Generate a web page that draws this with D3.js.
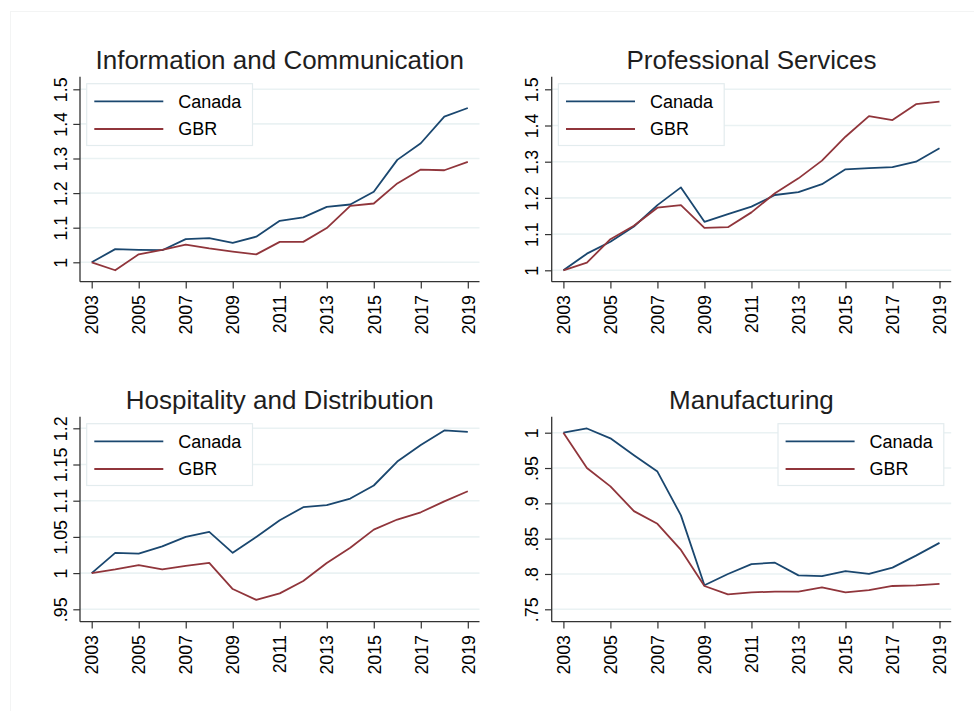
<!DOCTYPE html>
<html>
<head>
<meta charset="utf-8">
<script src="https://cdn.jsdelivr.net/npm/d3@7"></script>
<style>
body{margin:0;background:#fff}
text{font-family:"Liberation Sans",Arial,sans-serif;fill:#000}
.title{font-size:26px;fill:#1e1e1e}
.tick text{font-size:17.8px}
.legendText{font-size:18px}
</style>
</head>
<body>
<div id="chart"></div>
<script>
//the data of the four panels
let years=[2003,2004,2005,2006,2007,2008,2009,2010,2011,2012,2013,2014,2015,2016,2017,2018,2019]
let seriesNames=["Canada","GBR"]
let panelTitles=["Information and Communication","Professional Services","Hospitality and Distribution","Manufacturing"]

let infoCanada=[1.0,1.038,1.036,1.035,1.067,1.070,1.056,1.074,1.120,1.130,1.160,1.167,1.204,1.296,1.344,1.421,1.446]
let infoGBR=[1.0,0.977,1.023,1.036,1.051,1.040,1.031,1.023,1.059,1.059,1.099,1.163,1.170,1.228,1.268,1.266,1.290]

let profCanada=[1.0,1.046,1.079,1.121,1.180,1.229,1.134,1.155,1.176,1.208,1.216,1.238,1.279,1.282,1.285,1.300,1.337]
let profGBR=[1.0,1.021,1.086,1.123,1.173,1.180,1.117,1.119,1.160,1.213,1.254,1.303,1.369,1.426,1.415,1.459,1.466]

let hospCanada=[1.0,1.028,1.027,1.037,1.050,1.057,1.028,1.050,1.073,1.091,1.094,1.103,1.121,1.154,1.177,1.197,1.195]
let hospGBR=[1.0,1.005,1.011,1.005,1.010,1.014,0.978,0.963,0.972,0.989,1.014,1.035,1.060,1.074,1.084,1.099,1.113]

let manuCanada=[1.0,1.006,0.992,0.968,0.945,0.883,0.784,0.800,0.814,0.816,0.798,0.797,0.804,0.800,0.809,0.826,0.844]
let manuGBR=[1.0,0.950,0.924,0.889,0.871,0.834,0.783,0.771,0.774,0.775,0.775,0.781,0.774,0.777,0.783,0.784,0.786]

let xTicks=[2003,2005,2007,2009,2011,2013,2015,2017,2019]
let infoTicks=[1,1.1,1.2,1.3,1.4,1.5]
let profTicks=[1,1.1,1.2,1.3,1.4,1.5]
let hospTicks=[0.95,1,1.05,1.1,1.15,1.2]
let manuTicks=[0.75,0.8,0.85,0.9,0.95,1]

let colors={"Canada":"#1a476f","GBR":"#90353b"}

//layout of every panel (frame of the plot region, and the pixel range of the y scale)
let panels=[
    {title:panelTitles[0],series:[infoCanada,infoGBR],ticks:infoTicks,domain:[1,1.5],left:80,top:76.7,yRange:[262.3,89.3],legend:"left"},
    {title:panelTitles[1],series:[profCanada,profGBR],ticks:profTicks,domain:[1,1.5],left:551.7,top:76.7,yRange:[270.3,89.3],legend:"left"},
    {title:panelTitles[2],series:[hospCanada,hospGBR],ticks:hospTicks,domain:[0.95,1.2],left:80,top:416.7,yRange:[609.3,428.3],legend:"left"},
    {title:panelTitles[3],series:[manuCanada,manuGBR],ticks:manuTicks,domain:[0.75,1],left:551.7,top:416.7,yRange:[609.3,432.7],legend:"right"}
]
let frameWidth=399.5
let frameHeight=205
let tickSize=6.7

let width=974
let height=711
let svg=d3.select("#chart").append("svg").attr("width",width).attr("height",height)

//faint outer frame of the graph (cut by the right and bottom edges)
svg.append("rect").attr("x",10.5).attr("y",11.5).attr("width",width).attr("height",height).attr("fill","none").attr("stroke","#f3f4f4")

//stata style labels: ".95" instead of "0.95"
let yFormat=v=>String(+v.toFixed(2)).replace(/^0\./,".")

function drawPanel(p){
    let g=svg.append("g")
    let right=p.left+frameWidth
    let bottom=p.top+frameHeight

    let xScale=d3.scaleLinear().domain([2003,2019]).range([p.left+11.7,right-11.7])
    let yScale=d3.scaleLinear().domain(p.domain).range(p.yRange)

    //we add the gridlines
    g.selectAll(".grid").data(p.ticks).enter().append("line").attr("class","grid")
        .attr("x1",p.left).attr("x2",right).attr("y1",d=>yScale(d)).attr("y2",d=>yScale(d))
        .attr("stroke","#eaf2f3").attr("stroke-width",1.6)

    //we create the axis
    let axisY=d3.axisLeft(yScale).tickValues(p.ticks).tickSize(tickSize).tickSizeOuter(0).tickFormat(yFormat)
    let axisX=d3.axisBottom(xScale).tickValues(xTicks).tickSize(tickSize).tickSizeOuter(0).tickFormat(d3.format("d"))

    let gy=g.append("g").attr("transform","translate("+p.left+",0)").call(axisY)
    gy.select(".domain").remove()
    gy.selectAll(".tick line").attr("stroke","#333").attr("stroke-width",1.2)
    gy.selectAll(".tick text").attr("transform","rotate(-90)").attr("x",0).attr("y",-13.3).attr("dy",0).attr("text-anchor","middle").attr("fill","#000")

    let gx=g.append("g").attr("transform","translate(0,"+bottom+")").call(axisX)
    gx.select(".domain").remove()
    gx.selectAll(".tick line").attr("stroke","#333").attr("stroke-width",1.2)
    gx.selectAll(".tick text").attr("transform","rotate(-90)").attr("x",-13.3).attr("y",0).attr("dy","0.35em").attr("text-anchor","end").attr("fill","#000")

    //axis lines
    g.append("line").attr("x1",p.left).attr("x2",p.left).attr("y1",p.top).attr("y2",bottom).attr("stroke","#333").attr("stroke-width",1.3)
    g.append("line").attr("x1",p.left).attr("x2",right).attr("y1",bottom).attr("y2",bottom).attr("stroke","#333").attr("stroke-width",1.3)

    //we add the lines of the series
    let line=d3.line().x((d,i)=>xScale(years[i])).y(d=>yScale(d))
    p.series.forEach((s,k)=>{
        g.append("path").datum(s).attr("d",line).attr("fill","none").attr("stroke",colors[seriesNames[k]]).attr("stroke-width",1.8).attr("stroke-linejoin","round")
    })

    //title
    g.append("text").attr("class","title").attr("x",(p.left+right)/2).attr("y",p.top-7.4).attr("text-anchor","middle").text(p.title)

    //we add a legend
    let legendW=165.8
    let legendX=p.legend=="left" ? p.left+6.7 : right-7.4-legendW
    let legendY=p.top+7
    let legend=g.append("g").attr("transform","translate("+legendX+","+legendY+")")
    legend.append("rect").attr("width",legendW).attr("height",61.8).attr("fill","#fff").attr("stroke","#e3ecee").attr("stroke-width",1.2)
    seriesNames.forEach((name,k)=>{
        let rowY=17.7+k*27.6
        legend.append("line").attr("x1",7.6).attr("x2",76.6).attr("y1",rowY).attr("y2",rowY).attr("stroke",colors[name]).attr("stroke-width",1.8)
        legend.append("text").attr("class","legendText").attr("x",91.6).attr("y",rowY).attr("dy","0.36em").text(name)
    })
}

panels.forEach(p=>drawPanel(p))
</script>
</body>
</html>
